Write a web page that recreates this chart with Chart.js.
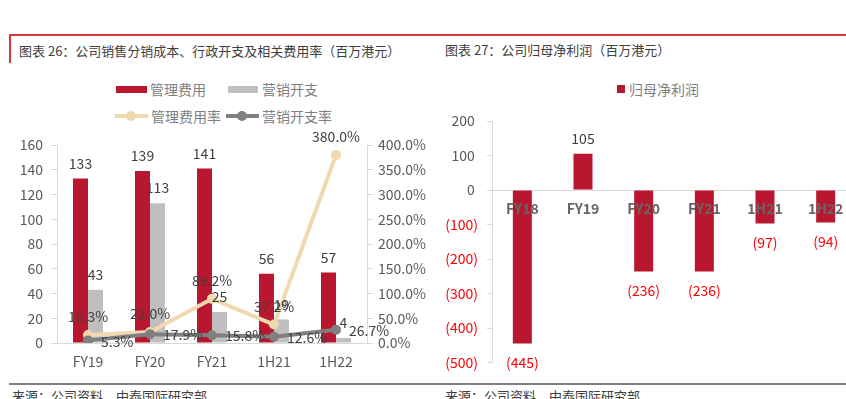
<!DOCTYPE html>
<html>
<head>
<meta charset="utf-8">
<script src="https://cdn.jsdelivr.net/npm/chart.js@4.4.0/dist/chart.umd.min.js"></script>
<style>
  body { margin: 0; width: 846px; height: 399px; overflow: hidden; background: #fff; position: relative;
         font-family: "Noto Sans CJK SC", "Noto Sans", sans-serif; }
  .t { position: absolute; white-space: nowrap; height: 20px; line-height: 20px; }
  .title { font-size: 13px; color: #404040; }
  .leg { font-size: 14px; color: #808080; }
  .src { font-size: 13px; color: #404040; }
  .box { position: absolute; }
  canvas { position: absolute; }
</style>
</head>
<body>
<!-- frame lines -->
<div class="box" style="left:9px;top:34px;width:837px;height:2px;background:#d9383a"></div>
<div class="box" style="left:9px;top:34px;width:2px;height:29px;background:#d9383a"></div>
<div class="box" style="left:9px;top:383px;width:837px;height:1.5px;background:#808080"></div>

<div class="t title" style="left:19px;top:41px">图表 26：公司销售分销成本、行政开支及相关费用率（百万港元）</div>
<div class="t title" style="left:445px;top:40px">图表 27：公司归母净利润（百万港元）</div>

<!-- left legend -->
<div class="box" style="left:116px;top:86px;width:31px;height:7px;background:#b8172f"></div>
<div class="t leg" style="left:150px;top:79px">管理费用</div>
<div class="box" style="left:228px;top:86px;width:30px;height:7px;background:#bfbfbf"></div>
<div class="t leg" style="left:262px;top:79px">营销开支</div>
<div class="box" style="left:115px;top:114px;width:33px;height:4px;background:#f0d9ae"></div>
<div class="box" style="left:126px;top:111px;width:10px;height:10px;border-radius:5px;background:#f0d9ae"></div>
<div class="t leg" style="left:151px;top:106px">管理费用率</div>
<div class="box" style="left:226px;top:114px;width:33px;height:4px;background:#808080"></div>
<div class="box" style="left:237px;top:111px;width:10px;height:10px;border-radius:5px;background:#808080"></div>
<div class="t leg" style="left:262px;top:106px">营销开支率</div>

<!-- right legend -->
<div class="box" style="left:617px;top:85px;width:8px;height:8px;background:#b8172f"></div>
<div class="t leg" style="left:629px;top:79px">归母净利润</div>

<canvas id="costChart" width="430" height="260" style="left:0;top:120px;width:430px;height:260px"></canvas>
<canvas id="profitChart" width="430" height="280" style="left:430px;top:100px;width:430px;height:280px"></canvas>

<div class="t src" style="left:12px;top:386px">来源：公司资料，中泰国际研究部</div>
<div class="t src" style="left:445px;top:386px">来源：公司资料，中泰国际研究部</div>

<script>
// chart 26 data
const costCats = ["FY19", "FY20", "FY21", "1H21", "1H22"];
const adminCost = [133, 139, 141, 56, 57];      // 管理费用
const sellCost = [43, 113, 25, 19, 4];          // 营销开支
const adminRate = [16.3, 22.0, 89.2, 37.2, 380.0]; // 管理费用率 %
const sellRate = [5.3, 17.9, 15.8, 12.6, 26.7];    // 营销开支率 %

// chart 27 data
const profitCats = ["FY18", "FY19", "FY20", "FY21", "1H21", "1H22"];
const netProfit = [-445, 105, -236, -236, -97, -94]; // 归母净利润

const FONT = '"Noto Sans CJK SC", "Noto Sans", sans-serif';
Chart.defaults.font.family = FONT;
Chart.defaults.animation = false;

const RED = "#b8172f";
const GREY = "#bfbfbf";
const AXIS = "#d9d9d9";
const TICK = "#595959";

// simple value labels, options live on each dataset as `lbl`
const valueLabels = {
  id: "valueLabels",
  afterDatasetsDraw(chart) {
    const ctx = chart.ctx;
    chart.data.datasets.forEach((ds, i) => {
      const lbl = ds.lbl;
      if (!lbl) return;
      const meta = chart.getDatasetMeta(i);
      meta.data.forEach((el, j) => {
        const v = ds.data[j];
        const neg = v < 0;
        ctx.save();
        ctx.font = "14px " + FONT;
        ctx.fillStyle = neg && lbl.negColor ? lbl.negColor : lbl.color;
        ctx.textAlign = lbl.align || "center";
        ctx.textBaseline = "middle";
        const dy = neg ? lbl.negDy : lbl.dy;
        ctx.fillText(lbl.fmt(v), el.x + (lbl.dx || 0), el.y + dy);
        ctx.restore();
      });
    });
  },
};

new Chart(document.getElementById("costChart"), {
  data: {
    labels: costCats,
    datasets: [
      {
        type: "bar", label: "管理费用", data: adminCost, yAxisID: "y",
        backgroundColor: RED, barPercentage: 1, categoryPercentage: 0.484, order: 2,
        lbl: { color: "#404040", dy: -15, fmt: (v) => String(v) },
      },
      {
        type: "bar", label: "营销开支", data: sellCost, yAxisID: "y",
        backgroundColor: GREY, barPercentage: 1, categoryPercentage: 0.484, order: 2,
        lbl: { color: "#404040", dy: -15, fmt: (v) => String(v) },
      },
      {
        type: "line", label: "管理费用率", data: adminRate, yAxisID: "y1",
        borderColor: "#f0d9ae", backgroundColor: "#f0d9ae", borderWidth: 4,
        pointRadius: 5, pointBorderWidth: 0, order: 1,
        lbl: { color: "#404040", dy: -18, fmt: (v) => v.toFixed(1) + "%" },
      },
      {
        type: "line", label: "营销开支率", data: sellRate, yAxisID: "y1",
        borderColor: "#808080", backgroundColor: "#808080", borderWidth: 4,
        pointRadius: 5, pointBorderWidth: 0, order: 0,
        lbl: { color: "#404040", dx: 13, dy: 1, align: "left", fmt: (v) => v.toFixed(1) + "%" },
      },
    ],
  },
  options: {
    responsive: false,
    layout: { padding: { top: 25, left: 0, right: 0, bottom: 0 } },
    plugins: { legend: { display: false }, tooltip: { enabled: false } },
    scales: {
      x: {
        grid: { display: false, drawTicks: false },
        border: { color: AXIS },
        ticks: { color: TICK, font: { size: 14 }, padding: 10 },
        afterFit: (s) => { s.height = 37; },
      },
      y: {
        position: "left", min: 0, max: 160,
        ticks: { stepSize: 20, color: TICK, font: { size: 14 }, padding: 8 },
        grid: { drawOnChartArea: false, tickLength: 6, color: AXIS },
        border: { color: AXIS },
        afterFit: (s) => { s.width = 57; },
      },
      y1: {
        position: "right", min: 0, max: 400,
        ticks: { stepSize: 50, color: TICK, font: { size: 14 }, padding: 5,
                 callback: (v) => v.toFixed(1) + "%" },
        grid: { drawOnChartArea: false, tickLength: 6, color: AXIS },
        border: { color: AXIS },
        afterFit: (s) => { s.width = 63; },
      },
    },
  },
  plugins: [valueLabels],
});

new Chart(document.getElementById("profitChart"), {
  type: "bar",
  data: {
    labels: profitCats,
    datasets: [
      {
        label: "归母净利润", data: netProfit, backgroundColor: RED,
        barPercentage: 0.313, categoryPercentage: 1,
        lbl: { color: "#404040", negColor: "#ff0000", dy: -15, negDy: 19,
               fmt: (v) => (v < 0 ? "(" + -v + ")" : String(v)) },
      },
    ],
  },
  options: {
    responsive: false,
    layout: { padding: { top: 21, left: 0, right: 4, bottom: 17 } },
    plugins: { legend: { display: false }, tooltip: { enabled: false } },
    scales: {
      x: {
        position: { y: 0 },
        grid: { display: false, drawTicks: false },
        border: { color: AXIS },
        ticks: { z: 1, color: "#666666", font: { size: 14, weight: "bold" }, padding: 10 },
      },
      y: {
        min: -500, max: 200,
        ticks: {
          stepSize: 100, font: { size: 14 }, padding: 9,
          color: (c) => (c.tick && c.tick.value < 0 ? "#ff0000" : TICK),
          callback: (v) => (v < 0 ? "(" + -v + ")" : v + " "),
        },
        grid: { drawOnChartArea: false, tickLength: 5, color: AXIS },
        border: { color: AXIS },
        afterFit: (s) => { s.width = 62; },
      },
    },
  },
  plugins: [valueLabels],
});
</script>
</body>
</html>
